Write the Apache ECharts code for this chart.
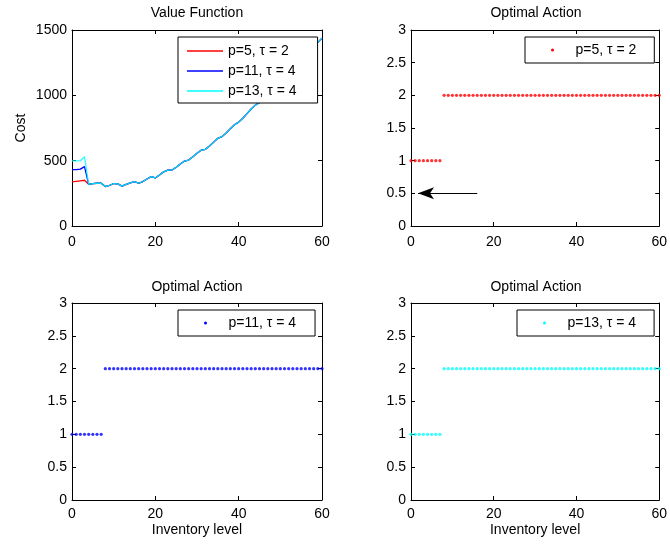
<!DOCTYPE html>
<html><head><meta charset="utf-8">
<script src="https://cdn.jsdelivr.net/npm/echarts@6/dist/echarts.min.js"></script>
<style>html,body{margin:0;padding:0;background:#fff}#c{width:670px;height:546px}</style>
</head><body><div id="c"></div>
<script>
// ---- data ----
const inventory = [0,1,2,3,4,5,6,7,8,9,10,11,12,13,14,15,16,17,18,19,20,21,22,23,24,25,26,27,28,29,30,
  31,32,33,34,35,36,37,38,39,40,41,42,43,44,45,46,47,48,49,50,51,52,53,54,55,56,57,58,59,60];
const costHeadP5  = [338,342,346,350];
const costHeadP11 = [432,432,435,454];
const costHeadP13 = [498,498,500,530];
const costShared = [319,325,327,327, 302,310,325,322, 305,318,330,340, 327,340,360,378,
  368,390,415,428, 428,450,475,497, 505,530,557,580, 587,612,642,671, 684,712,745,775,
  795,825,860,895, 925,945,980,1015, 1040,1065,1100,1135, 1160,1185,1220,1255, 1285,1320,1365,1405, 1438];
const costP5  = costHeadP5.concat(costShared);
const costP11 = costHeadP11.concat(costShared);
const costP13 = costHeadP13.concat(costShared);
const actionP5  = [1,1,1,1,1,1,1,1,2,2,2,2,2,2,2,2,2,2,2,2,2,2,2,2,2,2,2,2,2,2,2,2,2,2,2,2,2,2,2,2,2,2,2,2,2,2,2,2,2,2,2,2,2,2,2,2,2,2,2,2,2];
const actionP11 = [1,1,1,1,1,1,1,1,2,2,2,2,2,2,2,2,2,2,2,2,2,2,2,2,2,2,2,2,2,2,2,2,2,2,2,2,2,2,2,2,2,2,2,2,2,2,2,2,2,2,2,2,2,2,2,2,2,2,2,2,2];
const actionP13 = [1,1,1,1,1,1,1,1,2,2,2,2,2,2,2,2,2,2,2,2,2,2,2,2,2,2,2,2,2,2,2,2,2,2,2,2,2,2,2,2,2,2,2,2,2,2,2,2,2,2,2,2,2,2,2,2,2,2,2,2,2];
const seriesNames = ['p=5, \u03c4 = 2', 'p=11, \u03c4 = 4', 'p=13, \u03c4 = 4'];
const titles = ['Value Function', 'Optimal Action', 'Optimal Action', 'Optimal Action'];
const xTicks = {min: 0, max: 60, interval: 20};
const costTicks = {min: 0, max: 1500, interval: 500};
const actionTicks = {min: 0, max: 3, interval: 0.5};
const arrowTail = [16, 0.5];
const arrowTip = [1.7, 0.5];

// ---- chart ----
const FF = '"Liberation Sans", Arial, Helvetica, sans-serif';
const FS = 14;
const pair = (ys) => inventory.map((x, i) => [x, ys[i]]);
const grids = [
  {left: 72, top: 30, width: 250, height: 196},
  {left: 411, top: 30, width: 250, height: 196},
  {left: 72, top: 303, width: 250, height: 197},
  {left: 411, top: 303, width: 250, height: 197}
];
const xAxes = [], yAxes = [];
grids.forEach((g, gi) => {
  const common = {type: 'value', gridIndex: gi, min: xTicks.min, max: xTicks.max, interval: xTicks.interval,
    splitLine: {show: false},
    axisLine: {show: true, onZero: false, lineStyle: {color: '#000', width: 1}},
    axisTick: {show: true, inside: true, length: 4, lineStyle: {color: '#000', width: 1}}};
  xAxes.push(Object.assign({}, common, {position: 'bottom',
    axisLabel: {show: true, color: '#000', fontSize: FS, fontFamily: FF, margin: gi < 2 ? 9 : 7},
    name: gi >= 2 ? 'Inventory level' : '', nameLocation: 'middle', nameGap: 23,
    nameTextStyle: {color: '#000', fontSize: FS, fontFamily: FF}}));
  xAxes.push(Object.assign({}, common, {position: 'top', axisLabel: {show: false}}));
  const yt = gi === 0 ? costTicks : actionTicks;
  const ycommon = {type: 'value', gridIndex: gi, min: yt.min, max: yt.max, interval: yt.interval,
    splitLine: {show: false},
    axisLine: {show: true, onZero: false, lineStyle: {color: '#000', width: 1}},
    axisTick: {show: true, inside: true, length: 4, lineStyle: {color: '#000', width: 1}}};
  yAxes.push(Object.assign({}, ycommon, {position: 'left',
    axisLabel: {show: true, color: '#000', fontSize: FS, fontFamily: FF, margin: 5,
      formatter: (v) => String(v)},
    name: gi === 0 ? 'Cost' : '', nameLocation: 'middle', nameGap: 44,
    nameTextStyle: {color: '#000', fontSize: FS, fontFamily: FF}}));
  yAxes.push(Object.assign({}, ycommon, {position: 'right', axisLabel: {show: false}}));
});

const colors = ['#ff0000', '#0000ff', '#00ffff'];
const costs = [costP5, costP11, costP13];
const actions = [actionP5, actionP11, actionP13];
const series = [];
costs.forEach((c, i) => series.push({
  type: 'line', name: seriesNames[i], xAxisIndex: 0, yAxisIndex: 0, data: pair(c),
  symbol: 'none', showSymbol: false, color: colors[i],
  lineStyle: {width: 1.3, color: colors[i], opacity: i === 2 ? 0.85 : 1},
  z: 2 + i, animation: false
}));
actions.forEach((a, i) => {
  const s = {
    type: 'scatter', name: seriesNames[i], xAxisIndex: 2 * (i + 1), yAxisIndex: 2 * (i + 1),
    data: pair(a), symbol: 'circle', symbolSize: 3.2, itemStyle: {color: colors[i]}, animation: false
  };
  if (i === 0) {
    s.markLine = {
      silent: true, animation: false,
      symbol: ['none', 'path://M-16,-16 M16,16 M0,0 L6,16 L0,12 L-6,16 Z'],
      symbolSize: 32,
      lineStyle: {color: '#000', width: 1, type: 'solid'},
      itemStyle: {color: '#000'},
      label: {show: false},
      data: [[{coord: arrowTail}, {coord: arrowTip}]]
    };
  }
  series.push(s);
});

const legendBase = {orient: 'vertical', selectedMode: false, backgroundColor: '#fff',
  borderColor: '#000', borderWidth: 1, itemWidth: 36, z: 10,
  itemStyle: {borderWidth: 0},
  textStyle: {color: '#000', fontSize: FS, fontFamily: FF}};
const lineIcon = 'path://M0,0 H36 V1.3 H0 Z';
const legends = [
  Object.assign({}, legendBase, {left: 178, top: 37, padding: [7, 21, 5, 9], itemHeight: 14, itemGap: 6,
    data: seriesNames.map((n) => ({name: n, icon: lineIcon}))}),
  Object.assign({}, legendBase, {left: 525, top: 37, padding: [6, 18, 6, 26], itemHeight: 3,
    data: [{name: seriesNames[0], icon: 'circle'}]}),
  Object.assign({}, legendBase, {left: 178, top: 310, padding: [6, 19, 6, 26], itemHeight: 3,
    data: [{name: seriesNames[1], icon: 'circle'}]}),
  Object.assign({}, legendBase, {left: 517, top: 310, padding: [6, 18, 6, 26], itemHeight: 3,
    data: [{name: seriesNames[2], icon: 'circle'}]})
];

const titleOpts = titles.map((t, i) => ({
  text: t, left: grids[i].left + grids[i].width / 2, textAlign: 'center',
  top: i < 2 ? 6 : 280, padding: 0,
  textStyle: {color: '#000', fontSize: FS, fontWeight: 'normal', fontFamily: FF}
}));

const chart = echarts.init(document.getElementById('c'), null, {renderer: 'canvas'});
chart.setOption({
  animation: false,
  backgroundColor: '#fff',
  title: titleOpts,
  grid: grids,
  xAxis: xAxes,
  yAxis: yAxes,
  legend: legends,
  series: series
});
</script>
</body></html>
